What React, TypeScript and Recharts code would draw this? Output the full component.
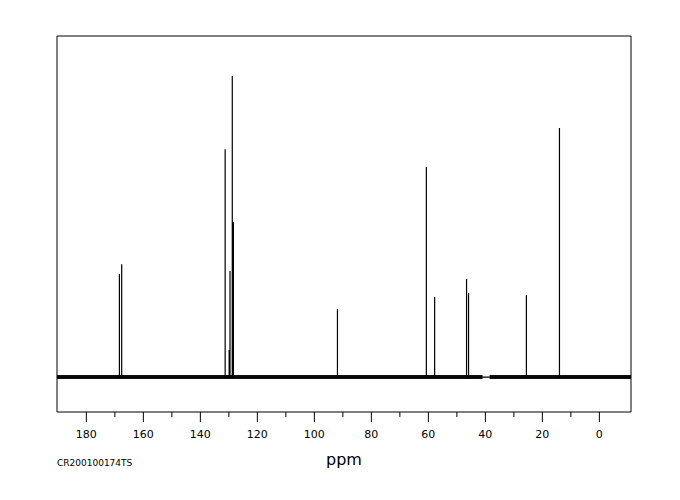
import { LineChart, Line, XAxis, YAxis, ReferenceArea } from 'recharts';

// 13C spectrum, ppm axis runs right to left
const ppmMin = -11.1;
const ppmMax = 190.3;
const intensityMin = -11.6;
const intensityMax = 113.3;

const peakPpm = [168.4, 167.6, 131.3, 129.9, 129.6, 128.8, 128.4, 91.9, 60.7, 57.8, 46.6, 45.9, 25.6, 14.0];
const peakHeight = [34.2, 37.5, 75.7, 9.0, 35.2, 100, 51.5, 22.6, 69.8, 26.6, 32.6, 27.9, 27.2, 82.7];

// noise band is missing between 41 and 38.5 ppm
const noiseStart = [190.3, 38.5];
const noiseEnd = [41.0, -11.1];

const majorTicks = [180, 160, 140, 120, 100, 80, 60, 40, 20, 0];
const minorTicks = [170, 150, 130, 110, 90, 70, 50, 30, 10];

const spectrum = [
  { ppm: ppmMax, i: 0 },
  ...peakPpm.flatMap((p, k) => [
    { ppm: p, i: 0 },
    { ppm: p, i: peakHeight[k] },
    { ppm: p, i: 0 },
  ]),
  { ppm: ppmMin, i: 0 },
];

const noise = noiseStart.flatMap((s, k) => [
  { ppm: s, n: 0 },
  { ppm: noiseEnd[k], n: 0 },
  { ppm: noiseEnd[k] - 0.01, n: null },
]);

const allTicks = [...majorTicks, ...minorTicks].sort((a, b) => b - a);

function PpmTick(props: any) {
  const { x, y, payload } = props;
  const major = majorTicks.includes(payload.value);
  return (
    <g>
      <line x1={x} x2={x} y1={y} y2={y + (major ? 10 : 5)} stroke="#000" strokeWidth={1} />
      {major && (
        <text
          x={x}
          y={y + 26}
          textAnchor="middle"
          fontFamily="DejaVu Sans"
          fontSize={11}
          fill="#000"
        >
          {payload.value}
        </text>
      )}
    </g>
  );
}

export default function App() {
  return (
    <div style={{ position: 'fixed', left: 0, top: 0, width: 680, height: 500, background: '#fff' }}>
      <LineChart
        width={680}
        height={500}
        margin={{ top: 36, right: 49, left: 57, bottom: 58 }}
      >
        <XAxis
          dataKey="ppm"
          type="number"
          domain={[ppmMin, ppmMax]}
          reversed
          allowDataOverflow
          ticks={allTicks}
          interval={0}
          axisLine={false}
          tickLine={false}
          tickSize={0}
          tickMargin={0}
          tick={<PpmTick />}
          height={30}
        />
        <YAxis type="number" domain={[intensityMin, intensityMax]} allowDataOverflow hide />
        <Line
          data={noise}
          dataKey="n"
          type="linear"
          stroke="#111"
          strokeWidth={4}
          dot={false}
          connectNulls={false}
          isAnimationActive={false}
        />
        <Line
          data={spectrum}
          dataKey="i"
          type="linear"
          stroke="#000"
          strokeWidth={1.2}
          dot={false}
          isAnimationActive={false}
        />
        <ReferenceArea
          x1={ppmMax}
          x2={ppmMin}
          y1={intensityMin}
          y2={intensityMax}
          fill="none"
          stroke="#000"
          strokeWidth={1}
          ifOverflow="visible"
        />
      </LineChart>
      <svg
        width={680}
        height={500}
        style={{ position: 'absolute', left: 0, top: 0, pointerEvents: 'none' }}
      >
        <text x={57} y={466} fontFamily="DejaVu Sans" fontSize={9} fill="#000">
          CR200100174TS
        </text>
        <text x={344} y={465} textAnchor="middle" fontFamily="DejaVu Sans" fontSize={16} fill="#000">
          ppm
        </text>
      </svg>
    </div>
  );
}
